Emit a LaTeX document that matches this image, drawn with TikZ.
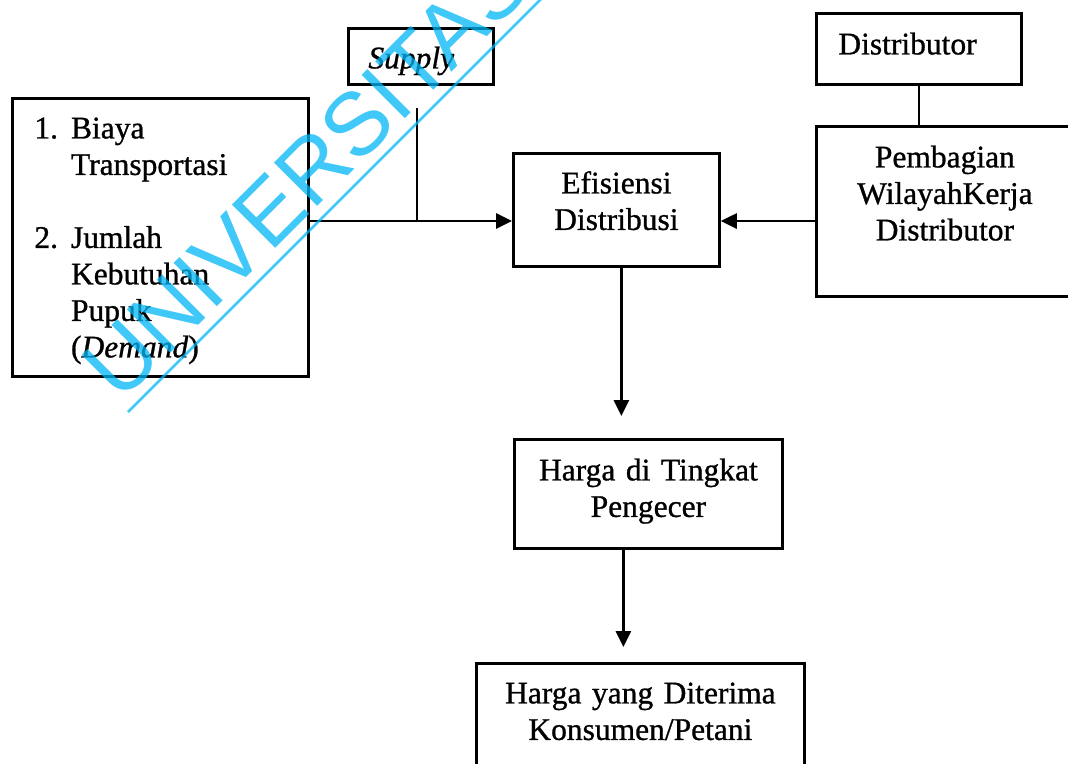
\documentclass[tikz,border=0pt]{standalone}
\usepackage{fontspec}
\setmainfont{Liberation Serif}[FakeBold=0.9]
\newfontfamily\tandafont{Liberation Sans}
\usetikzlibrary{arrows.meta,positioning}
\definecolor{tandabiru}{RGB}{0,181,245}

\begin{document}
\begin{tikzpicture}[x=1pt,y=-1pt,%
    kotak/.style={draw,line width=2.8pt,inner sep=0pt,anchor=north west,align=center,
                  font=\fontsize{31.5}{36.5}\selectfont},
    garis/.style={line width=2.8pt},
    panah/.style={garis,-{Triangle[length=16pt,width=15pt]}},
    tanda/.style={anchor=base west,rotate=45,inner sep=0pt,text=tandabiru,text opacity=0.75,
                  font=\tandafont\fontsize{89}{89}\selectfont},
    tandagaris/.style={draw=tandabiru,draw opacity=0.75,line width=2.5pt}]

  \useasboundingbox (0,0) rectangle (1068,763);
  \clip (0,0) rectangle (1068,763);

  % kotak-kotak
  \node[kotak,align=left,text width=296pt,text height=40pt,text depth=238pt] (faktor) at (11,97)
    {\begin{tabular}[t]{@{\hspace{22pt}}l@{\hspace{13pt}}l@{}}
       1. & Biaya\\ & Transportasi\\ \\
       2. & Jumlah\\ & Kebutuhan\\ & Pupuk\\ & (\textit{Demand})
     \end{tabular}};
  \node[kotak,align=left,text width=145pt,text height=40pt,text depth=16pt] (supply) at (347,27)
    {\hspace*{20pt}\textit{Supply}};
  \node[kotak,text width=206pt,text height=40pt,text depth=73pt] (efisiensi) at (512,152)
    {Efisiensi\\ Distribusi};
  \node[kotak,align=left,text width=205pt,text height=41pt,text depth=30pt] (distributor) at (815,12)
    {\hspace*{22pt}Distributor};
  \node[kotak,text width=257pt,text height=41pt,text depth=129pt] (pembagian) at (815,125)
    {Pembagian\\ WilayahKerja\\ Distributor};
  \node[kotak,text width=268pt,text height=41pt,text depth=68pt] (tingkat) at (513,438)
    {Harga di Tingkat\\ Pengecer};
  \node[kotak,text width=328pt,text height=40pt,text depth=73pt] (diterima) at (475,662)
    {Harga yang Diterima\\ Konsumen/Petani};

  % garis dan panah
  \coordinate (ujung) at (417,108);
  \coordinate (temu) at (417,221);
  \draw[garis] (ujung) -- (temu);
  \draw[panah] (faktor.east |- temu) -- (efisiensi.west |- temu);
  \draw[panah] (pembagian.west |- temu) -- (efisiensi.east |- temu);
  \draw[garis] (distributor.south) -- (distributor.south |- pembagian.north);
  \draw[panah,shorten >=22pt] ([xshift=5pt]efisiensi.south) -- ([xshift=5pt]efisiensi.south |- tingkat.north);
  \draw[panah,shorten >=15pt] ([xshift=-25pt]tingkat.south) -- ([xshift=-25pt]tingkat.south |- diterima.north);

  % tanda air
  \node[tanda] (wm) at (120,404) {UNIVERSITAS};
  \draw[tandagaris] ([shift={(8pt,-8pt)}]wm.base west) -- ++(45:720pt);
\end{tikzpicture}
\end{document}
